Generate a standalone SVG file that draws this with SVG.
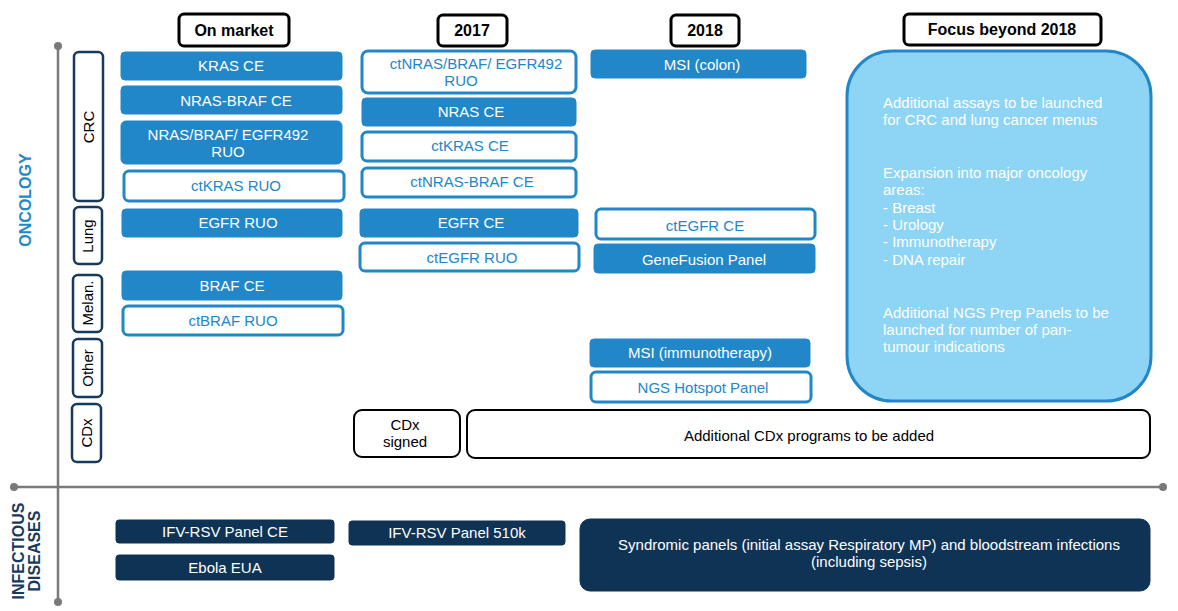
<svg xmlns="http://www.w3.org/2000/svg" width="1178" height="611" viewBox="0 0 1178 611">
<style>
text{font-family:"Liberation Sans",Arial,sans-serif;font-size:15px;text-anchor:middle}
.hdr rect{fill:#fff;stroke:#000;stroke-width:3}
.hdr text{font-weight:bold;font-size:16px;fill:#000}
.cat rect{fill:#fff;stroke:#173a5c;stroke-width:2.5}
.cat text{fill:#000;font-size:15px}
.fill rect{fill:#2287c8;stroke:#2287c8;stroke-width:1}
.fill text{fill:#fff}
.out rect{fill:#fff;stroke:#2287c8;stroke-width:3}
.out text{fill:#2287c8}
.blk rect{fill:#fff;stroke:#000;stroke-width:2}
.blk text{fill:#000}
.nav rect{fill:#0f3355;stroke:#0f3355}
.nav text{fill:#fff}
.focus rect{fill:#8ed4f4;stroke:#2287c8;stroke-width:3}
.focus text{fill:#fff;text-anchor:start}
.axis{stroke:#7a7a7a;stroke-width:2.5}
.dot{fill:#7a7a7a}
.sec{font-weight:bold;font-size:16px}
</style>
<g id="axes">
<line class="axis" x1="58" y1="46" x2="58" y2="602"/>
<circle class="dot" cx="58" cy="46" r="4"/>
<circle class="dot" cx="58" cy="602" r="4"/>
<line class="axis" x1="14" y1="487" x2="1163" y2="487"/>
<circle class="dot" cx="14" cy="487" r="4"/>
<circle class="dot" cx="1163" cy="487" r="4"/>
</g>
<g id="sections">
<text class="sec" fill="#2287c8" transform="translate(31,200) rotate(-90)">ONCOLOGY</text>
<text class="sec" fill="#173a5c" transform="translate(24,551) rotate(-90)">INFECTIOUS</text>
<text class="sec" fill="#173a5c" transform="translate(40,551) rotate(-90)">DISEASES</text>
</g>
<g id="h-onmarket" class="hdr"><rect x="179" y="14" width="110" height="32" rx="5"/><text x="234" y="36">On market</text></g>
<g id="h-2017" class="hdr"><rect x="438" y="15" width="69" height="31" rx="5"/><text x="472" y="36">2017</text></g>
<g id="h-2018" class="hdr"><rect x="671" y="15" width="68" height="31" rx="5"/><text x="705" y="36">2018</text></g>
<g id="h-focus" class="hdr"><rect x="904" y="14" width="197" height="31" rx="5"/><text x="1002" y="35">Focus beyond 2018</text></g>

<g id="cat-crc" class="cat"><rect x="74" y="52" width="29" height="149" rx="5"/><text transform="translate(94,127) rotate(-90)">CRC</text></g>
<g id="cat-lung" class="cat"><rect x="74" y="207" width="28" height="57" rx="5"/><text transform="translate(93,236) rotate(-90)">Lung</text></g>
<g id="cat-melan" class="cat"><rect x="73" y="275" width="29" height="57" rx="5"/><text transform="translate(93,303) rotate(-90)">Melan.</text></g>
<g id="cat-other" class="cat"><rect x="73" y="339" width="29" height="58" rx="5"/><text transform="translate(93,368) rotate(-90)">Other</text></g>
<g id="cat-cdx" class="cat"><rect x="72" y="404" width="29" height="58" rx="5"/><text transform="translate(92,433) rotate(-90)">CDx</text></g>

<g id="kras-ce" class="fill"><rect x="121" y="52" width="221" height="28" rx="4"/><text x="231" y="71">KRAS CE</text></g>
<g id="nras-braf-ce" class="fill"><rect x="121" y="86" width="221" height="28" rx="4"/><text x="236" y="106">NRAS-BRAF CE</text></g>
<g id="nras-braf-egfr" class="fill"><rect x="121" y="121" width="221" height="43" rx="5"/><text x="228" y="140">NRAS/BRAF/ EGFR492</text><text x="228" y="157">RUO</text></g>
<g id="ctkras-ruo" class="out"><rect x="124" y="171" width="220" height="30" rx="5"/><text x="236" y="191">ctKRAS RUO</text></g>
<g id="egfr-ruo" class="fill"><rect x="122" y="209" width="220" height="28" rx="4"/><text x="238" y="228">EGFR RUO</text></g>
<g id="braf-ce" class="fill"><rect x="122" y="271" width="220" height="29" rx="4"/><text x="232" y="291">BRAF CE</text></g>
<g id="ctbraf-ruo" class="out"><rect x="123" y="306" width="220" height="29" rx="5"/><text x="233" y="326">ctBRAF RUO</text></g>

<g id="ctnras-braf-egfr" class="out"><rect x="362" y="51" width="214" height="42" rx="6"/><text x="476" y="69">ctNRAS/BRAF/ EGFR492</text><text x="461" y="86">RUO</text></g>
<g id="nras-ce" class="fill"><rect x="362" y="98" width="214" height="28" rx="4"/><text x="471" y="117">NRAS CE</text></g>
<g id="ctkras-ce" class="out"><rect x="362" y="132" width="214" height="29" rx="5"/><text x="470" y="151">ctKRAS CE</text></g>
<g id="ctnras-braf-ce" class="out"><rect x="362" y="168" width="214" height="29" rx="5"/><text x="472" y="187">ctNRAS-BRAF CE</text></g>
<g id="egfr-ce" class="fill"><rect x="360" y="209" width="218" height="28" rx="4"/><text x="471" y="228">EGFR CE</text></g>
<g id="ctegfr-ruo" class="out"><rect x="360" y="243" width="219" height="28" rx="5"/><text x="472" y="263">ctEGFR RUO</text></g>

<g id="msi-colon" class="fill"><rect x="591" y="50" width="215" height="28" rx="4"/><text x="702" y="70">MSI (colon)</text></g>
<g id="ctegfr-ce" class="out"><rect x="596" y="209" width="219" height="30" rx="5"/><text x="705" y="231">ctEGFR CE</text></g>
<g id="genefusion" class="fill"><rect x="594" y="244" width="221" height="29" rx="4"/><text x="704" y="265">GeneFusion Panel</text></g>
<g id="msi-immuno" class="fill"><rect x="590" y="339" width="220" height="28" rx="4"/><text x="700" y="358">MSI (immunotherapy)</text></g>
<g id="ngs-hotspot" class="out"><rect x="591" y="372" width="220" height="30" rx="5"/><text x="703" y="393">NGS Hotspot Panel</text></g>

<g id="focus" class="focus"><rect x="847" y="51" width="304" height="350" rx="45"/>
<text x="883" y="108">Additional assays to be launched</text>
<text x="883" y="125">for CRC and lung cancer menus</text>
<text x="883" y="178">Expansion into major oncology</text>
<text x="883" y="195">areas:</text>
<text x="883" y="213">- Breast</text>
<text x="883" y="230">- Urology</text>
<text x="883" y="247">- Immunotherapy</text>
<text x="883" y="265">- DNA repair</text>
<text x="883" y="318">Additional NGS Prep Panels to be</text>
<text x="883" y="335">launched for number of pan-</text>
<text x="883" y="352">tumour indications</text>
</g>

<g id="cdx-signed" class="blk"><rect x="354" y="410" width="106" height="47" rx="8"/><text x="405" y="430">CDx</text><text x="405" y="447">signed</text></g>
<g id="cdx-additional" class="blk"><rect x="467" y="410" width="683" height="48" rx="8"/><text x="809" y="441">Additional CDx programs to be added</text></g>

<g id="ifv-ce" class="nav"><rect x="116" y="520" width="218" height="23" rx="3"/><text x="225" y="537">IFV-RSV Panel CE</text></g>
<g id="ebola" class="nav"><rect x="116" y="555" width="218" height="25" rx="3"/><text x="225" y="573">Ebola EUA</text></g>
<g id="ifv-510k" class="nav"><rect x="349" y="521" width="216" height="24" rx="3"/><text x="457" y="538">IFV-RSV Panel 510k</text></g>
<g id="syndromic" class="nav"><rect x="580" y="519" width="570" height="72" rx="10"/><text x="869" y="550">Syndromic panels (initial assay Respiratory MP) and bloodstream infections</text><text x="869" y="567">(including sepsis)</text></g>
</svg>
